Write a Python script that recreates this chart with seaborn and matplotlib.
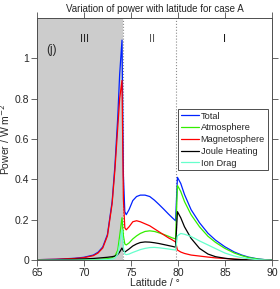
import pandas as pd
import matplotlib
matplotlib.use("Agg")
import matplotlib.pyplot as plt
import seaborn as sns

# latitude samples (deg)
latitude = [65, 67, 69, 70, 71, 71.5, 72, 72.5, 73, 73.3, 73.6, 73.8, 74.05, 74.2,
            74.35, 74.5, 74.8, 75.2, 75.6, 76.0, 76.5, 77.0, 77.5, 78.0, 78.5, 79.0,
            79.4, 79.75, 79.95, 80.3, 80.7, 81.4, 82.3, 83.2, 84.0, 85.0, 86.0, 86.8,
            87.5, 88.5, 89.3, 90]

total = [0.002, 0.004, 0.009, 0.014, 0.025, 0.039, 0.065, 0.127, 0.29, 0.47, 0.71, 0.92,
         1.09, 0.42, 0.24, 0.225, 0.25, 0.295, 0.315, 0.322, 0.322, 0.315, 0.297, 0.275,
         0.252, 0.228, 0.21, 0.195, 0.41, 0.38, 0.325, 0.25, 0.185, 0.133, 0.099, 0.066,
         0.04, 0.025, 0.015, 0.006, 0.002, 0.0]

atmosphere = [0.0, 0.0, 0.001, 0.002, 0.003, 0.004, 0.005, 0.007, 0.012, 0.02, 0.05, 0.12,
              0.21, 0.12, 0.08, 0.075, 0.085, 0.105, 0.12, 0.132, 0.142, 0.145, 0.142, 0.135,
              0.127, 0.118, 0.11, 0.105, 0.37, 0.34, 0.29, 0.225, 0.165, 0.118, 0.088, 0.058,
              0.035, 0.022, 0.013, 0.005, 0.002, 0.0]

magnetosphere = [0.002, 0.004, 0.008, 0.012, 0.022, 0.035, 0.06, 0.12, 0.28, 0.45, 0.66, 0.80,
                 0.89, 0.30, 0.16, 0.15, 0.165, 0.19, 0.195, 0.19, 0.18, 0.17, 0.155, 0.14,
                 0.125, 0.11, 0.10, 0.09, 0.05, 0.04, 0.033, 0.025, 0.02, 0.015, 0.011, 0.008,
                 0.005, 0.003, 0.002, 0.001, 0.0, 0.0]

joule = [0.0, 0.002, 0.004, 0.006, 0.008, 0.01, 0.012, 0.014, 0.017, 0.02, 0.028, 0.04,
         0.06, 0.045, 0.04, 0.045, 0.055, 0.07, 0.08, 0.087, 0.09, 0.089, 0.086, 0.082,
         0.077, 0.072, 0.068, 0.064, 0.24, 0.21, 0.165, 0.108, 0.058, 0.03, 0.017, 0.009,
         0.004, 0.002, 0.001, 0.0, 0.0, 0.0]

ion_drag = [0.0, 0.0, 0.0, 0.0, 0.001, 0.001, 0.002, 0.003, 0.005, 0.01, 0.03, 0.08,
            0.15, 0.06, 0.03, 0.027, 0.03, 0.038, 0.045, 0.052, 0.058, 0.062, 0.063, 0.061,
            0.058, 0.055, 0.052, 0.05, 0.12, 0.132, 0.128, 0.117, 0.095, 0.075, 0.057, 0.035,
            0.02, 0.012, 0.007, 0.002, 0.001, 0.0]

series_names = ["Total", "Atmosphere", "Magnetosphere", "Joule Heating", "Ion Drag"]
colors = ["#0022ff", "#33ee00", "#ff0000", "#000000", "#66ffcc"]

df = pd.DataFrame({"Latitude": latitude, "Total": total, "Atmosphere": atmosphere,
                   "Magnetosphere": magnetosphere, "Joule Heating": joule,
                   "Ion Drag": ion_drag})
long_df = df.melt(id_vars="Latitude", var_name="series", value_name="power")

sns.set_style("ticks")
plt.rcParams["font.family"] = ["Liberation Sans", "DejaVu Sans"]

fig = plt.figure(figsize=(2.8, 2.89), dpi=100)
ax = fig.add_axes([0.132, 0.100, 0.839, 0.838])

# region III shading and region boundaries
ax.axvspan(65, 74.15, color="#cccccc", zorder=0, lw=0)
ax.axvline(74.2, color="0.55", ls=":", lw=0.8, zorder=1)
ax.axvline(79.75, color="0.55", ls=":", lw=0.8, zorder=1)

sns.lineplot(data=long_df, x="Latitude", y="power", hue="series",
             hue_order=series_names, palette=dict(zip(series_names, colors)),
             linewidth=0.9, ax=ax)

ax.set_xlim(65, 90)
ax.set_ylim(0, 1.2)
ax.set_xticks([65, 70, 75, 80, 85, 90])
ax.set_yticks([0, 0.2, 0.4, 0.6, 0.8, 1])
ax.set_yticklabels(["0", "0.2", "0.4", "0.6", "0.8", "1"])
ax.tick_params(direction="out", length=4, width=0.6, labelsize=7.5, pad=1.5,
               top=True, right=True, color="0.3")
for sp in ax.spines.values():
    sp.set_color("0.3")
    sp.set_linewidth(0.7)

ax.set_title("Variation of power with latitude for case A", fontsize=7, pad=4)
ax.set_xlabel("Latitude / °", fontsize=7.5, labelpad=0)
ax.set_ylabel("Power / W m$^{-2}$", fontsize=7.5)
ax.yaxis.set_label_coords(-0.105, 0.5)

ax.text(70.1, 1.095, "III", fontsize=8, ha="center", va="center", color="0.15")
ax.text(77.2, 1.095, "II", fontsize=8, ha="center", va="center", color="0.35")
ax.text(85.0, 1.095, "I", fontsize=8, ha="center", va="center", color="0.1")
ax.text(66.6, 1.04, "(j)", fontsize=8.5, ha="center", va="center")

leg = ax.legend(loc="upper left", bbox_to_anchor=(0.6, 0.625), fontsize=6.7,
                frameon=True, fancybox=False, edgecolor="0.3", handlelength=2.0,
                handletextpad=0.15, labelspacing=0.3, borderpad=0.3,
                borderaxespad=0, title=None, framealpha=1)
leg.get_frame().set_linewidth(0.7)

plt.savefig("out.png", dpi=100)
